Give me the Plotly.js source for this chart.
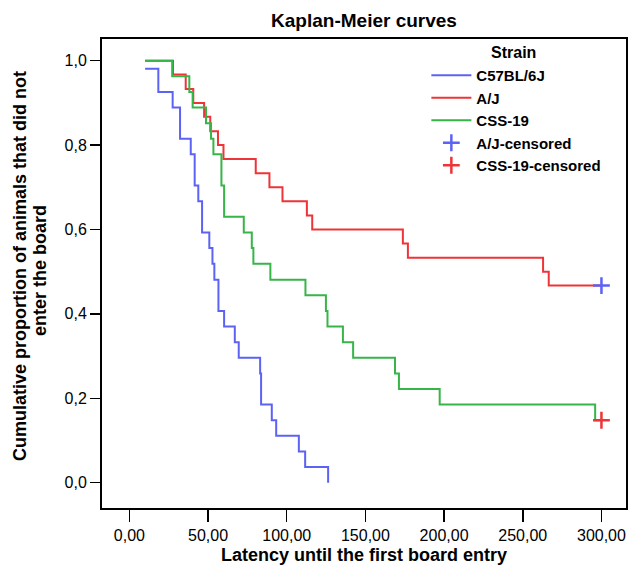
<!DOCTYPE html>
<html>
<head>
<meta charset="utf-8">
<script src="https://cdn.plot.ly/plotly-3.0.1.min.js"></script>
<style>html,body{margin:0;padding:0;background:#fff;}#chart{width:632px;height:566px;}</style>
</head>
<body>
<div id="chart"></div>
<script>
// Kaplan-Meier step data (time, cumulative proportion after the event)
const c57Time = [10, 18.4, 27.5, 32.2, 39.0, 41.5, 43.8, 46.2, 50.8, 52.8, 54.0, 56.6, 60.2, 67.0, 69.5, 83.1, 83.7, 90.5, 93.3, 107.7, 111.7, 126.3];
const c57Surv = [0.981, 0.926, 0.889, 0.815, 0.778, 0.704, 0.667, 0.593, 0.556, 0.519, 0.481, 0.407, 0.370, 0.333, 0.296, 0.259, 0.185, 0.148, 0.111, 0.074, 0.037, 0.0];

const ajTime = [10, 27.7, 35.8, 40.6, 47.5, 51.4, 56.3, 59.8, 80.3, 89.0, 97.3, 112.8, 116.2, 173.8, 177.0, 262.9, 266.5, 300];
const ajSurv = [1.0, 0.967, 0.933, 0.900, 0.867, 0.833, 0.800, 0.767, 0.733, 0.700, 0.667, 0.633, 0.600, 0.567, 0.533, 0.500, 0.467, 0.467];

const cssTime = [10, 27.2, 38.1, 40.2, 48.7, 51.9, 53.4, 58.5, 60.2, 72.7, 77.8, 78.8, 89.6, 111.9, 124.9, 125.9, 135.7, 142.2, 168.8, 171.3, 197.2, 296.0, 300];
const cssSurv = [1.0, 0.963, 0.926, 0.889, 0.852, 0.815, 0.778, 0.704, 0.630, 0.593, 0.556, 0.519, 0.481, 0.444, 0.407, 0.370, 0.333, 0.296, 0.259, 0.222, 0.185, 0.148, 0.148];

const ajCensTime = [300];
const ajCensSurv = [0.467];
const cssCensTime = [300];
const cssCensSurv = [0.148];

const xTicks = [0, 50, 100, 150, 200, 250, 300];
const yTicks = [0, 0.2, 0.4, 0.6, 0.8, 1.0];

const BLUE = '#5c63f4', RED = '#ee3438', GREEN = '#36b548';
const FONT = 'Liberation Sans, Arial, Helvetica, sans-serif';

const traces = [
  {x: c57Time, y: c57Surv, name: 'C57BL/6J', mode: 'lines', line: {shape: 'hv', color: BLUE, width: 2}},
  {x: ajTime, y: ajSurv, name: 'A/J', mode: 'lines', line: {shape: 'hv', color: RED, width: 2}},
  {x: cssTime, y: cssSurv, name: 'CSS-19', mode: 'lines', line: {shape: 'hv', color: GREEN, width: 2}},
  {x: ajCensTime, y: ajCensSurv, name: 'A/J-censored', mode: 'markers',
   marker: {symbol: 'cross-thin', size: 12, color: BLUE, line: {color: BLUE, width: 2.5}}},
  {x: cssCensTime, y: cssCensSurv, name: 'CSS-19-censored', mode: 'markers',
   marker: {symbol: 'cross-thin', size: 12, color: RED, line: {color: RED, width: 2.5}}}
];
// bold legend labels
traces.forEach(t => { t.name = '<b>' + t.name + '</b>'; });

const layout = {
  width: 632, height: 566,
  margin: {l: 102, r: 6, t: 39, b: 58},
  paper_bgcolor: '#fff', plot_bgcolor: '#fff',
  separators: ',.',
  font: {family: FONT, color: '#000', size: 16},
  title: {text: '<b>Kaplan-Meier curves</b>', font: {size: 19, family: FONT, color: '#000'},
          x: 0.5, xref: 'paper', y: 1 - 20/566, yref: 'container', yanchor: 'middle'},
  xaxis: {
    range: [-17.4, 315.6], tickvals: xTicks, tickformat: '.2f',
    ticks: 'outside', ticklen: 12, tickwidth: 1.5, tickcolor: '#000',
    showline: true, mirror: true, linecolor: '#000', linewidth: 2,
    showgrid: false, zeroline: false,
    tickfont: {size: 16, family: FONT, color: '#000'},
    title: {text: '<b>Latency until the first board entry</b>', font: {size: 18, family: FONT, color: '#000'}, standoff: 5}
  },
  yaxis: {
    range: [-0.06, 1.0514], tickvals: yTicks, tickformat: '.1f',
    ticks: 'outside', ticklen: 10, tickwidth: 1.5, tickcolor: '#000',
    showline: true, mirror: true, linecolor: '#000', linewidth: 2,
    showgrid: false, zeroline: false,
    tickfont: {size: 16, family: FONT, color: '#000'}
  },
  annotations: [
    {text: '<b>Cumulative proportion of animals that did not</b>', textangle: -90,
     xref: 'paper', yref: 'paper', x: (20 - 102) / 524, y: (508 - 266) / 469,
     xanchor: 'center', yanchor: 'middle', showarrow: false,
     font: {size: 18, family: FONT, color: '#000'}},
    {text: '<b>enter the board</b>', textangle: -90,
     xref: 'paper', yref: 'paper', x: (40 - 102) / 524, y: (508 - 271) / 469,
     xanchor: 'center', yanchor: 'middle', showarrow: false,
     font: {size: 18, family: FONT, color: '#000'}},
    {text: '<b>Strain</b>', xref: 'paper', yref: 'paper',
     x: (513 - 102) / 524, y: (508 - 53) / 469, xanchor: 'center', yanchor: 'middle',
     showarrow: false, font: {size: 16, family: FONT, color: '#000'}}
  ],
  showlegend: true,
  legend: {
    x: 0.619, y: 0.9574, xanchor: 'left', yanchor: 'top',
    bgcolor: 'rgba(0,0,0,0)', borderwidth: 0, traceorder: 'normal',
    font: {size: 15, family: FONT, color: '#000'},
    itemwidth: 40, tracegroupgap: 0
  }
};

Plotly.newPlot('chart', traces, layout, {displayModeBar: false, staticPlot: true});
</script>
</body>
</html>
